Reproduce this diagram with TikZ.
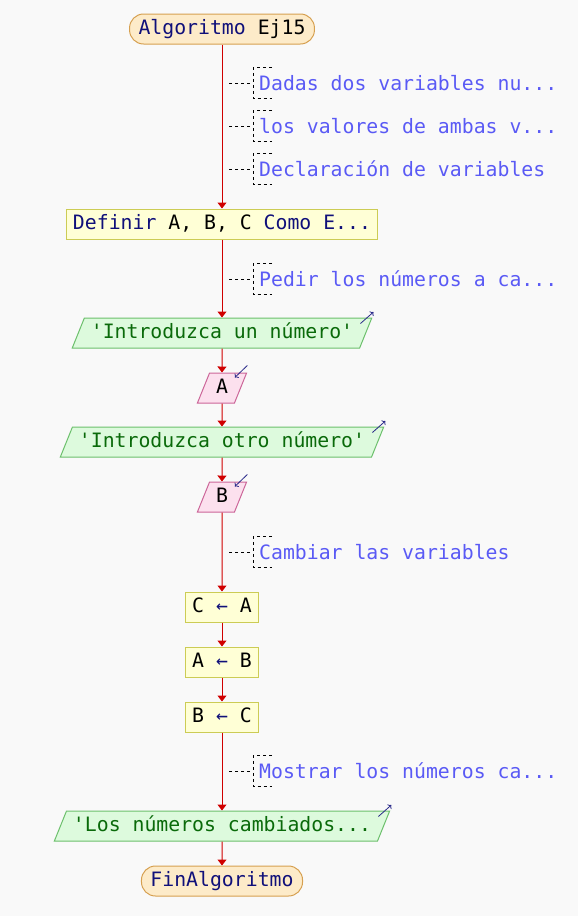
\documentclass[tikz,border=0pt]{standalone}
\usepackage{xcolor}
\usepackage{fontspec}
\setmonofont{DejaVu Sans Mono}
\usepackage{tikz}
\usetikzlibrary{positioning,shapes.geometric,arrows.meta}

\definecolor{fondo}{HTML}{F9F9F9}
\definecolor{navy}{HTML}{10107A}
\definecolor{termfill}{HTML}{FDEBC9}
\definecolor{termline}{HTML}{D6A050}
\definecolor{procfill}{HTML}{FFFFD6}
\definecolor{procline}{HTML}{CCCC55}
\definecolor{salfill}{HTML}{DDFADD}
\definecolor{salline}{HTML}{6CC06C}
\definecolor{salcol}{HTML}{0A6A0A}
\definecolor{entfill}{HTML}{FCE0EE}
\definecolor{entline}{HTML}{CC6699}
\definecolor{notacol}{HTML}{5A5AF5}
\definecolor{flecha}{HTML}{D00000}
\definecolor{iocol}{HTML}{2A2A8A}

\begin{document}
\begin{tikzpicture}[x=1pt, y=1pt,
      every node/.style={font=\fontsize{19.8}{22}\ttfamily},
      base/.style={draw, line width=1pt, text height=15pt, text depth=4pt, inner ysep=5.5pt},
      term/.style={base, rectangle, rounded corners=14pt, fill=termfill, draw=termline, text=navy, inner xsep=9pt},
      proc/.style={base, rectangle, fill=procfill, draw=procline, text=black, inner xsep=6.5pt},
      salida/.style={base, trapezium, trapezium left angle=68, trapezium right angle=112, fill=salfill, draw=salline, text=salcol, inner xsep=6.5pt},
      entrada/.style={base, trapezium, trapezium left angle=68, trapezium right angle=112, fill=entfill, draw=entline, text=black, inner xsep=6.5pt},
      nota/.style={anchor=west, text=notacol, inner xsep=6pt, inner ysep=0pt, minimum height=30pt},
      notaline/.style={draw=black, line width=0.9pt, dash pattern=on 3pt off 3pt},
      line/.style={draw=flecha, line width=1pt, -{Triangle[length=6pt,width=9pt]}},
      io/.style={draw=iocol, line width=0.8pt, -{To[length=3pt,width=6pt]}}
    ]
    
    \fill [fondo] (0,0) rectangle (578,-916);
    \useasboundingbox (0,0) rectangle (578,-916);
    
    \node [term] (inicio) at (222,-29) {Algoritmo \textcolor{black}{Ej15}};
    \node [proc, below of=inicio, node distance=195pt] (definir) {\textcolor{navy}{Definir} A, B, C \textcolor{navy}{Como E...}};
    \node [salida, below of=definir, node distance=109pt] (msj1) {'Introduzca un número'};
    \node [entrada, below of=msj1, node distance=55pt] (leerA) {A};
    \node [salida, below of=leerA, node distance=54pt] (msj2) {'Introduzca otro número'};
    \node [entrada, below of=msj2, node distance=55pt] (leerB) {B};
    \node [proc, below of=leerB, node distance=110pt] (asig1) {C \textcolor{navy}{←} A};
    \node [proc, below of=asig1, node distance=55pt] (asig2) {A \textcolor{navy}{←} B};
    \node [proc, below of=asig2, node distance=55pt] (asig3) {B \textcolor{navy}{←} C};
    \node [salida, below of=asig3, node distance=109pt] (msj3) {'Los números cambiados...};
    \node [term, below of=msj3, node distance=55pt] (fin) {FinAlgoritmo};
    
    % comentarios
    \node [nota] (nota1) at (253,-83) {Dadas dos variables nu...};
    \node [nota] (nota2) at (253,-126) {los valores de ambas v...};
    \node [nota] (nota3) at (253,-169) {Declaración de variables};
    \node [nota] (nota4) at (253,-279) {Pedir los números a ca...};
    \node [nota] (nota5) at (253,-552) {Cambiar las variables};
    \node [nota] (nota6) at (253,-771) {Mostrar los números ca...};
    
    \foreach \n in {nota1,nota2,nota3,nota4,nota5,nota6} {
      \path [notaline] ([xshift=19pt]\n.north west) -| (\n.south west) -- ++(19pt,0);
      \path [notaline] ([xshift=-3pt]\n.west) -- ++(-22pt,0);
    }
    
    \path [line] (inicio) -- (definir);
    \path [line] (definir) -- (msj1);
    \path [line] (msj1) -- (leerA);
    \path [line] (leerA) -- (msj2);
    \path [line] (msj2) -- (leerB);
    \path [line] (leerB) -- (asig1);
    \path [line] (asig1) -- (asig2);
    \path [line] (asig2) -- (asig3);
    \path [line] (asig3) -- (msj3);
    \path [line] (msj3) -- (fin);
    
    % flechas de entrada/salida
    \foreach \s in {msj1,msj2,msj3}
      \path [io] ([shift={(-12pt,-6pt)}]\s.top right corner) -- ([shift={(1pt,5.5pt)}]\s.top right corner);
    \foreach \e in {leerA,leerB}
      \path [io] ([yshift=7pt]\e.top right corner) -- ([shift={(-12.5pt,-5pt)}]\e.top right corner);
    
\end{tikzpicture}
\end{document}
